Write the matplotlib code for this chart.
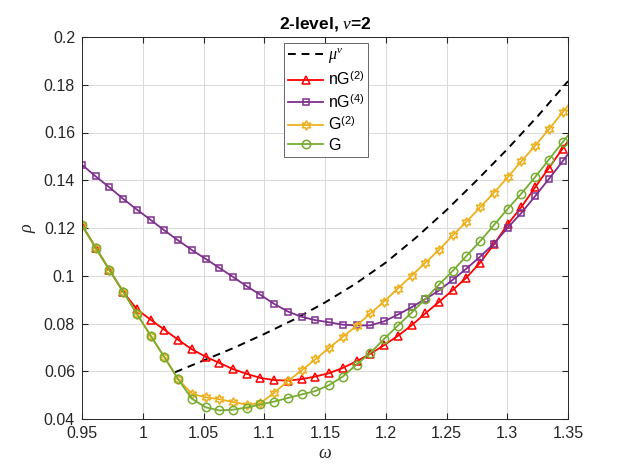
import numpy as np
import matplotlib
matplotlib.use("Agg")
import matplotlib.pyplot as plt

plt.rcParams['font.family'] = ['Liberation Sans', 'DejaVu Sans']
plt.rcParams['mathtext.fontset'] = 'custom'
plt.rcParams['mathtext.it'] = 'Liberation Serif:italic'
plt.rcParams['mathtext.rm'] = 'Liberation Sans'

# omega grid (37 samples, last one lies beyond the x-limit)
omega = 0.95 + 0.0113 * np.arange(37)

nG2 = [0.1212, 0.1117, 0.1024, 0.0933, 0.0859, 0.0816, 0.0774, 0.0732, 0.0692, 0.0661,
       0.0635, 0.0609, 0.0589, 0.0572, 0.0563, 0.0561, 0.0567, 0.0578, 0.0592, 0.0614,
       0.0642, 0.0673, 0.0709, 0.0748, 0.0792, 0.0842, 0.0890, 0.0940, 0.0992, 0.1055,
       0.1131, 0.1215, 0.1288, 0.1370, 0.1451, 0.1532, 0.1610]
nG4 = [0.1465, 0.1416, 0.1370, 0.1322, 0.1277, 0.1234, 0.1190, 0.1148, 0.1108, 0.1071,
       0.1033, 0.0995, 0.0956, 0.0920, 0.0882, 0.0850, 0.0828, 0.0814, 0.0805, 0.0795,
       0.0792, 0.0792, 0.0809, 0.0837, 0.0868, 0.0902, 0.0938, 0.0983, 0.1030, 0.1080,
       0.1134, 0.1201, 0.1263, 0.1333, 0.1405, 0.1479, 0.1555]
G2 = [0.1212, 0.1117, 0.1024, 0.0933, 0.0840, 0.0749, 0.0659, 0.0567, 0.0506, 0.0491,
      0.0483, 0.0471, 0.0460, 0.0467, 0.0510, 0.0559, 0.0604, 0.0650, 0.0698, 0.0744,
      0.0791, 0.0842, 0.0892, 0.0946, 0.1000, 0.1054, 0.1108, 0.1169, 0.1226, 0.1287,
      0.1347, 0.1412, 0.1479, 0.1544, 0.1613, 0.1684, 0.1755]
G = [0.1212, 0.1117, 0.1024, 0.0933, 0.0840, 0.0749, 0.0659, 0.0567, 0.0485, 0.0449,
     0.0436, 0.0439, 0.0448, 0.0461, 0.0473, 0.0488, 0.0503, 0.0517, 0.0542, 0.0578,
     0.0628, 0.0677, 0.0735, 0.0791, 0.0845, 0.0902, 0.0963, 0.1020, 0.1083, 0.1145,
     0.1212, 0.1280, 0.1344, 0.1413, 0.1486, 0.1559, 0.1630]

mu_omega = [1.0266, 1.05, 1.075, 1.1, 1.125, 1.15, 1.175, 1.2, 1.225, 1.25, 1.275, 1.3, 1.325, 1.35]
mu = [0.0596, 0.0645, 0.0698, 0.0756, 0.0818, 0.0888, 0.0966, 0.1055, 0.1160, 0.1275,
      0.1400, 0.1530, 0.1668, 0.1815]

xticks = [0.95, 1.0, 1.05, 1.1, 1.15, 1.2, 1.25, 1.3, 1.35]
xticklabels = ['0.95', '1', '1.05', '1.1', '1.15', '1.2', '1.25', '1.3', '1.35']
yticks = [0.04, 0.06, 0.08, 0.1, 0.12, 0.14, 0.16, 0.18, 0.2]
yticklabels = ['0.04', '0.06', '0.08', '0.1', '0.12', '0.14', '0.16', '0.18', '0.2']

c_red = (1.0, 0.0, 0.0)
c_purple = (0.494, 0.184, 0.556)
c_yellow = (0.929, 0.694, 0.125)
c_green = (0.466, 0.674, 0.188)
axcol = (0.15, 0.15, 0.15)

fig = plt.figure(figsize=(6.28, 4.71), dpi=100)
ax = fig.add_axes([82/628, 1-419/471, 486/628, 382/471])

lw = 1.3
ms = 5
ax.plot(mu_omega, mu, '--', color='k', lw=1.4, dashes=(4, 3), label=r'$\mu^{\nu}$')
ax.plot(omega, nG2, '-', color=c_red, lw=lw, marker='^', ms=ms + 1, mfc='none', mew=1.1,
        label=r'nG$^{(2)}$')
ax.plot(omega, nG4, '-', color=c_purple, lw=lw, marker='s', ms=ms, mfc='none', mew=1.1,
        label=r'nG$^{(4)}$')
ax.plot(omega, G2, '-', color=c_yellow, lw=lw, marker=(6, 1, 0), ms=ms + 2, mfc='none', mew=1.1,
        label=r'G$^{(2)}$')
ax.plot(omega, G, '-', color=c_green, lw=lw, marker='o', ms=ms + 1, mfc='none', mew=1.1,
        label='G')

ax.set_xlim(0.95, 1.35)
ax.set_ylim(0.04, 0.2)
ax.set_xticks(xticks)
ax.set_xticklabels(xticklabels)
ax.set_yticks(yticks)
ax.set_yticklabels(yticklabels)
ax.grid(True, color=(0.85, 0.85, 0.85), lw=0.7)
ax.set_axisbelow(True)
ax.tick_params(direction='in', length=4, colors=axcol, labelsize=11.5, top=True, right=True,
               pad=5)
for s in ax.spines.values():
    s.set_color(axcol)
    s.set_linewidth(0.7)

ax.set_xlabel(r'$\omega$', fontsize=13, color=axcol, labelpad=3)
ax.set_ylabel(r'$\rho$', fontsize=13, color=axcol)
ax.set_title(r'2-level, $\nu$=2', fontsize=12.5, fontweight='bold', color='k', pad=6)

leg = ax.legend(loc='upper left', bbox_to_anchor=(0.4156, 0.985), fontsize=11.5,
                fancybox=False, framealpha=1, edgecolor=(0.4, 0.4, 0.4), handlelength=2.2,
                borderpad=0.25, labelspacing=0.28, handletextpad=0.3, borderaxespad=0)
leg.get_frame().set_linewidth(0.7)

fig.savefig('out.png', dpi=100, facecolor='white')
